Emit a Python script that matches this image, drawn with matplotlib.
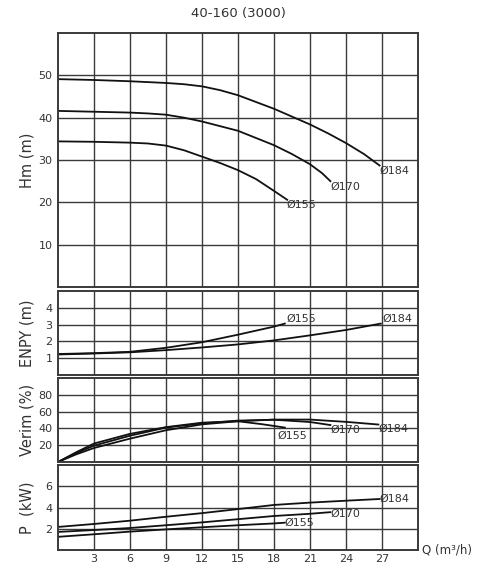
import matplotlib

matplotlib.use("Agg")
import matplotlib.pyplot as plt

# Hm (m) head curves
q_h184 = [0, 3, 6, 9, 10.5, 12, 13.5, 15, 18, 21, 22.5, 24, 25.5, 26.8]
h184 = [49.1, 48.9, 48.6, 48.2, 47.9, 47.4, 46.5, 45.3, 42.1, 38.4, 36.3, 34.0, 31.4, 28.7]
q_h170 = [0, 3, 6, 7.5, 9, 10.5, 12, 15, 18, 19.5, 21, 22, 22.7]
h170 = [41.6, 41.4, 41.2, 41.0, 40.7, 40.0, 39.1, 36.9, 33.5, 31.4, 29.0, 26.9, 25.0]
q_h155 = [0, 3, 6, 7.5, 9, 10.5, 12, 13.5, 15, 16.5, 18, 19.1]
h155 = [34.4, 34.3, 34.1, 33.9, 33.4, 32.3, 30.8, 29.3, 27.6, 25.5, 22.7, 20.6]

# ENPY (m)
q_n155 = [0, 3, 6, 9, 12, 15, 18, 18.9]
n155 = [1.25, 1.30, 1.38, 1.62, 1.95, 2.40, 2.88, 3.06]
q_n184 = [0, 3, 6, 9, 12, 15, 18, 21, 24, 26.9]
n184 = [1.22, 1.28, 1.35, 1.48, 1.64, 1.82, 2.06, 2.36, 2.68, 3.06]

# Verim (%) efficiency
q_e155 = [0, 1.5, 3, 6, 9, 12, 15, 17, 18.9]
e155 = [0, 11.5, 22.0, 33.5, 41.5, 46.8, 48.5, 45.0, 41.0]
q_e170 = [0, 1.5, 3, 6, 9, 12, 15, 18, 21, 22.7]
e170 = [0, 10.5, 19.5, 31.3, 41.0, 46.0, 49.3, 50.3, 47.6, 44.0]
q_e184 = [0, 1.5, 3, 6, 9, 12, 15, 18, 21, 24, 26.7]
e184 = [0, 9.0, 16.7, 27.8, 37.8, 44.8, 48.5, 50.5, 50.5, 47.8, 44.6]

# P (kW) power
q_p184 = [0, 3, 6, 9, 12, 15, 18, 21, 24, 26.8]
p184 = [2.17, 2.45, 2.76, 3.13, 3.47, 3.85, 4.24, 4.46, 4.64, 4.80]
q_p170 = [0, 3, 6, 9, 12, 15, 18, 21, 22.7]
p170 = [1.70, 1.88, 2.07, 2.33, 2.60, 2.90, 3.20, 3.41, 3.56]
q_p155 = [0, 3, 6, 9, 12, 15, 18, 18.9]
p155 = [1.24, 1.48, 1.73, 1.94, 2.14, 2.33, 2.50, 2.57]

q_ticks = [3, 6, 9, 12, 15, 18, 21, 24, 27]

GRID = "#3a3a3a"
TEXT = "#333333"
LINE = "#111111"

fig = plt.figure(figsize=(4.81, 5.80), dpi=100)
left, width = 58 / 481, 360 / 481
boxes = [(33, 287), (291, 375), (378, 462), (465, 550)]
axes = []
for top, bottom in boxes:
    ax = fig.add_axes([left, 1 - bottom / 580, width, (bottom - top) / 580])
    axes.append(ax)
ax_h, ax_n, ax_e, ax_p = axes

panels = [
    (ax_h, (0, 60), [10, 20, 30, 40, 50], "Hm (m)"),
    (ax_n, (0, 5), [1, 2, 3, 4], "ENPY (m)"),
    (ax_e, (0, 100), [20, 40, 60, 80], "Verim (%)"),
    (ax_p, (0, 8), [2, 4, 6], "P  (kW)"),
]
for ax, ylim, yticks, label in panels:
    ax.set_xlim(0, 30)
    ax.set_ylim(*ylim)
    ax.set_xticks(q_ticks)
    ax.set_yticks(yticks)
    ax.grid(True, color=GRID, linewidth=1.0)
    ax.set_axisbelow(True)
    ax.tick_params(length=0, pad=4, labelsize=8, labelcolor=TEXT)
    for spine in ax.spines.values():
        spine.set_color(GRID)
        spine.set_linewidth(1.4)
    ax.text(-0.085, 0.5, label, transform=ax.transAxes, rotation=90,
            ha="center", va="center", fontsize=10.5, color=TEXT)
    if ax is not ax_p:
        ax.tick_params(labelbottom=False)

ax_p.tick_params(axis="x", pad=3)

lw = 1.3
ax_h.plot(q_h184, h184, color=LINE, linewidth=lw)
ax_h.plot(q_h170, h170, color=LINE, linewidth=lw)
ax_h.plot(q_h155, h155, color=LINE, linewidth=lw)
ax_h.text(q_h184[-1], h184[-1] - 1.2, "Ø184", fontsize=8, color=TEXT, va="center")
ax_h.text(q_h170[-1], h170[-1] - 1.3, "Ø170", fontsize=8, color=TEXT, va="center")
ax_h.text(q_h155[-1] - 0.1, h155[-1] - 1.2, "Ø155", fontsize=8, color=TEXT, va="center")

ax_n.plot(q_n155, n155, color=LINE, linewidth=lw)
ax_n.plot(q_n184, n184, color=LINE, linewidth=lw)
ax_n.text(q_n155[-1] + 0.1, n155[-1] + 0.3, "Ø155", fontsize=8, color=TEXT, va="center")
ax_n.text(q_n184[-1] + 0.1, n184[-1] + 0.3, "Ø184", fontsize=8, color=TEXT, va="center")

ax_e.plot(q_e155, e155, color=LINE, linewidth=lw)
ax_e.plot(q_e170, e170, color=LINE, linewidth=lw)
ax_e.plot(q_e184, e184, color=LINE, linewidth=lw)
ax_e.text(q_e155[-1] - 0.6, e155[-1] - 9.5, "Ø155", fontsize=8, color=TEXT, va="center")
ax_e.text(q_e170[-1], e170[-1] - 6, "Ø170", fontsize=8, color=TEXT, va="center")
ax_e.text(q_e184[-1], e184[-1] - 4.5, "Ø184", fontsize=8, color=TEXT, va="center")

ax_p.plot(q_p184, p184, color=LINE, linewidth=lw)
ax_p.plot(q_p170, p170, color=LINE, linewidth=lw)
ax_p.plot(q_p155, p155, color=LINE, linewidth=lw)
ax_p.text(q_p184[-1], p184[-1], "Ø184", fontsize=8, color=TEXT, va="center")
ax_p.text(q_p170[-1], p170[-1] - 0.15, "Ø170", fontsize=8, color=TEXT, va="center")
ax_p.text(q_p155[-1], p155[-1] - 0.05, "Ø155", fontsize=8, color=TEXT, va="center")

ax_p.text(1.01, 0, "Q (m³/h)", transform=ax_p.transAxes, ha="left",
          va="center", fontsize=8.5, color=TEXT)

fig.text(238 / 481, 1 - 14 / 580, "40-160 (3000)", ha="center", va="center",
         fontsize=9.5, color=TEXT)

fig.savefig("out.png", dpi=100, facecolor="white")
